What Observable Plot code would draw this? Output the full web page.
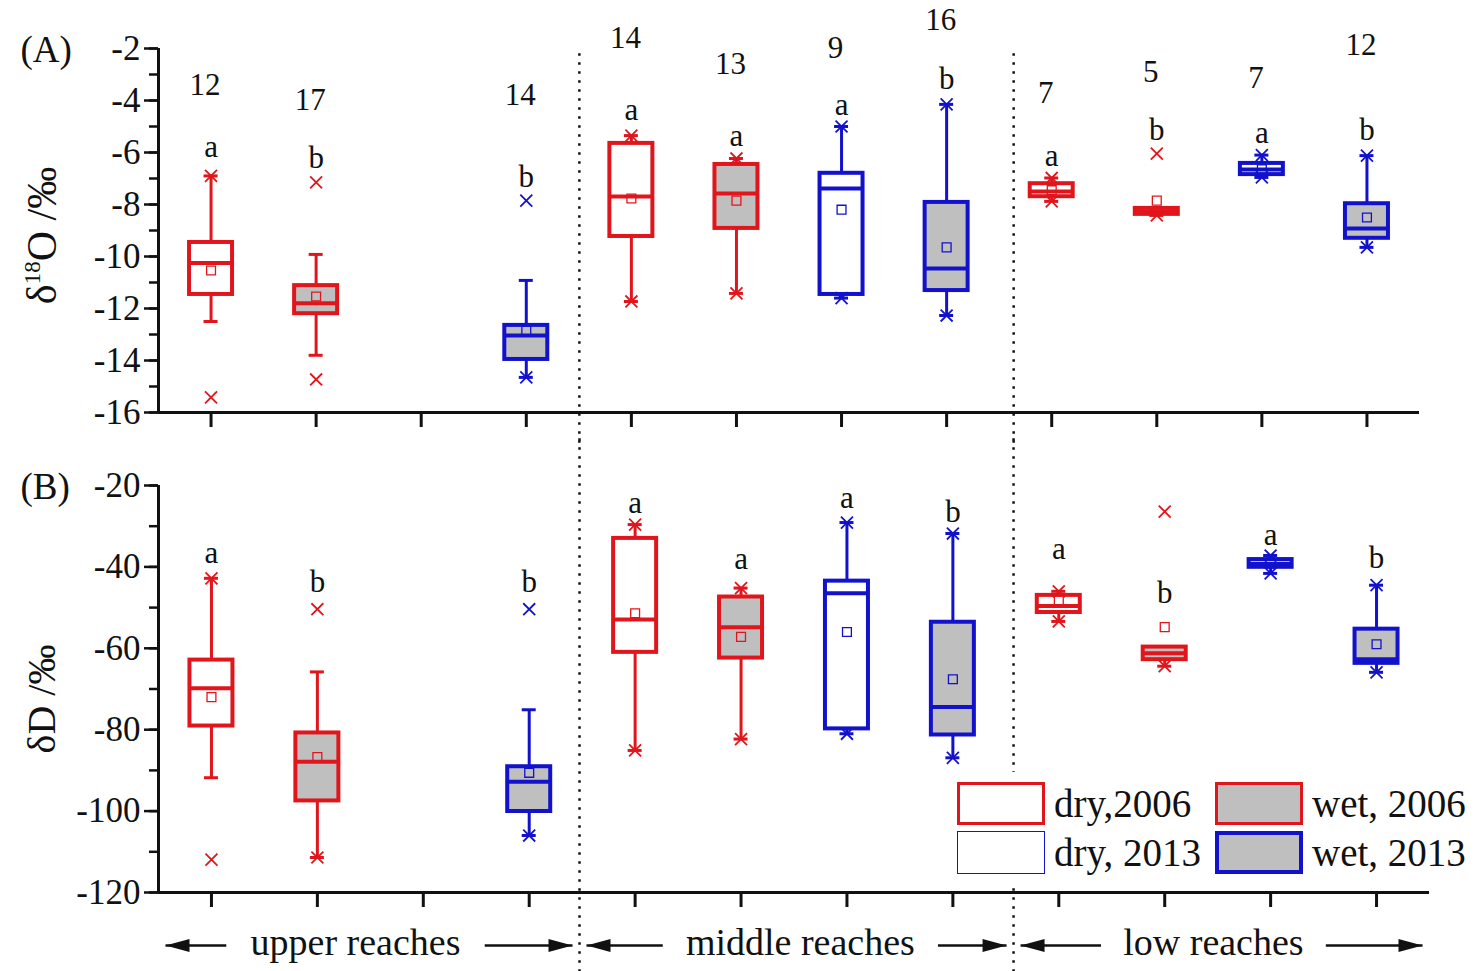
<!DOCTYPE html>
<html>
<head>
<meta charset="utf-8">
<script src="https://cdn.jsdelivr.net/npm/d3@7"></script>
<script src="https://cdn.jsdelivr.net/npm/@observablehq/plot@0.6"></script>
<style>
  body { margin: 0; background: #fff; }
  #wrap { position: relative; width: 1478px; height: 971px; overflow: hidden;
          font-family: 'Liberation Serif', 'Times New Roman', serif; }
  #wrap svg { position: absolute; left: 0; overflow: visible; }
  #legend { position: absolute; left: 950px; top: 772px; width: 528px; height: 116px; background: #fff; }
  .lbox { position: absolute; width: 88px; height: 43px; box-sizing: border-box; }
  .ltxt { position: absolute; font-size: 39px; line-height: 43px; color: #111; white-space: nowrap; }
</style>
</head>
<body>
<div id="wrap"></div>
<script>
// ---------- data ----------
const slots = [1, 2, 4, 5, 6, 7, 8, 9, 10, 11, 12];
const slotTicks = [1, 2, 3, 4, 5, 6, 7, 8, 9, 10, 11, 12];
const groups = ["dry,2006", "wet, 2006", "wet, 2013", "dry,2006", "wet, 2006", "dry, 2013", "wet, 2013",
                "dry,2006", "wet, 2006", "dry, 2013", "wet, 2013"];
const sampleCounts = [12, 17, 14, 14, 13, 9, 16, 7, 5, 7, 12];
const letters = ["a", "b", "b", "a", "a", "a", "b", "a", "b", "a", "b"];
const dividersA = [4.505, 8.638];
const dividersB = [4.475, 8.573];
const reachNames = ["upper reaches", "middle reaches", "low reaches"];
const reachCenter = [2.36, 6.56, 10.46];

// (A) δ18O
const o18WhiskerHigh = [-6.9, -9.92, -10.92, -5.35, -6.23, -5.0, -4.15, -6.98, -8.15, -6.1, -6.12];
const o18Q3          = [-9.46, -11.12, -12.65, -5.65, -6.46, -6.8, -7.92, -7.2, -8.15, -6.42, -7.97];
const o18Median      = [-10.25, -11.8, -13.04, -7.69, -7.58, -7.38, -10.46, -7.5, -8.27, -6.65, -8.92];
const o18Q1          = [-11.46, -12.2, -13.96, -9.23, -8.92, -11.46, -11.31, -7.7, -8.38, -6.85, -9.3];
const o18WhiskerLow  = [-12.5, -13.8, -14.65, -11.73, -11.42, -11.6, -12.27, -7.88, -8.42, -6.96, -9.65];
const o18Mean        = [-10.54, -11.54, -12.85, -7.77, -7.85, -8.2, -9.65, -7.45, -7.85, -6.65, -8.5];
const o18Max         = [-6.9, -7.15, -7.85, -5.35, -6.23, -5.0, -4.15, -6.98, -6.04, -6.1, -6.12];
const o18Min         = [-15.42, -14.73, -14.65, -11.73, -11.42, -11.6, -12.27, -7.88, -8.42, -6.96, -9.65];
const o18CountY      = [-3.42, -4.0, -3.81, -1.58, -2.58, -2.0, -0.92, -3.73, -2.92, -3.15, -1.88];
const o18LetterY     = [-5.81, -6.23, -6.96, -4.38, -5.38, -4.19, -3.19, -6.12, -5.15, -5.27, -5.15];
const o18Major = [-16, -14, -12, -10, -8, -6, -4, -2];
const o18Minor = [-16, -15, -14, -13, -12, -11, -10, -9, -8, -7, -6, -5, -4, -3, -2];

// (B) δD
const dWhiskerHigh = [-42.8, -65.8, -75.1, -29.6, -45.2, -29.1, -31.8, -46.0, -59.7, -37.2, -44.5];
const dQ3          = [-62.9, -80.8, -89.1, -33.0, -47.4, -43.5, -53.6, -47.0, -59.7, -38.2, -55.3];
const dMedian      = [-69.8, -87.9, -92.8, -52.9, -54.8, -46.5, -74.4, -49.6, -61.2, -39.2, -62.7];
const dQ1          = [-79.1, -97.5, -100.1, -61.0, -62.4, -79.8, -81.3, -51.2, -62.8, -40.1, -63.7];
const dWhiskerLow  = [-91.8, -111.4, -106.0, -85.1, -82.3, -81.0, -86.9, -53.4, -64.4, -41.6, -65.9];
const dMean        = [-72.0, -86.7, -90.6, -51.4, -57.2, -56.0, -67.6, -48.2, -54.8, -39.2, -59.0];
const dMax         = [-42.8, -50.4, -50.4, -29.6, -45.2, -29.1, -31.8, -46.0, -26.4, -37.2, -44.5];
const dMin         = [-111.9, -111.4, -106.0, -85.1, -82.3, -81.0, -86.9, -53.4, -64.4, -41.6, -65.9];
const dLetterY     = [-36.7, -43.8, -43.8, -24.4, -38.1, -23.2, -26.6, -35.7, -46.5, -32.3, -37.9];
const dMajor = [-120, -100, -80, -60, -40, -20];
const dMinor = [-120, -110, -100, -90, -80, -70, -60, -50, -40, -30, -20];

// ---------- styles ----------
const RED = "#e0161c", BLUE = "#1212cc", GRAY = "#bfbfbf";
const colorOf = g => g.endsWith("2006") ? RED : BLUE;
const fillOf = g => g.startsWith("wet") ? GRAY : "white";
const FONT = "'Liberation Serif', 'Times New Roman', serif";

const arrowHead = {
  draw(ctx) { ctx.moveTo(0, 0); ctx.lineTo(-24, -6.5); ctx.lineTo(-24, 6.5); ctx.closePath(); }
};

function buildRows(s) {
  return slots.map((slot, i) => ({
    slot, group: groups[i], whi: s.whi[i], q3: s.q3[i], med: s.med[i], q1: s.q1[i],
    wlo: s.wlo[i], mean: s.mean[i], max: s.max[i], min: s.min[i],
    letter: letters[i], letterY: s.letterY[i],
    count: s.countY ? sampleCounts[i] : null, countY: s.countY ? s.countY[i] : null
  }));
}

function panel(o) {
  const marginLeft = 158;
  const ppu = (1478 - marginLeft - o.marginRight) / 12;
  const hw = 21.5 / ppu, cw = 7 / ppu;
  const data = buildRows(o.stats);
  const ext = data.flatMap(d => [{slot: d.slot, v: d.max, group: d.group}, {slot: d.slot, v: d.min, group: d.group}]);
  const stroke = d => colorOf(d.group);
  const marks = [
    Plot.ruleX(o.dividers, {y1: o.divY[0], y2: o.divY[1], stroke: "#111", strokeWidth: 2.5, strokeDasharray: "2.5,6.5"}),
    Plot.ruleX([0.5], {stroke: "#111", strokeWidth: 3}),
    Plot.ruleY([o.yDomain[0]], {stroke: "#111", strokeWidth: 3}),
    Plot.axisY({ticks: o.minor, tickSize: 9, tickFormat: () => "", strokeWidth: 2.5, label: null}),
    Plot.axisY({ticks: o.major, tickSize: 14, tickPadding: 4, tickFormat: d => String(d), fontSize: 35,
                strokeWidth: 2.5, label: null, fill: "#111"}),
    Plot.axisX({ticks: slotTicks, tickSize: 15, tickFormat: () => "", strokeWidth: 3, label: null}),
    // whiskers
    Plot.ruleX(data, {x: "slot", y1: "q3", y2: "whi", stroke, strokeWidth: 3}),
    Plot.ruleX(data, {x: "slot", y1: "wlo", y2: "q1", stroke, strokeWidth: 3}),
    Plot.ruleY(data, {y: "whi", x1: d => d.slot - cw, x2: d => d.slot + cw, stroke, strokeWidth: 3}),
    Plot.ruleY(data, {y: "wlo", x1: d => d.slot - cw, x2: d => d.slot + cw, stroke, strokeWidth: 3}),
    // boxes
    Plot.rect(data, {x1: d => d.slot - hw, x2: d => d.slot + hw, y1: "q1", y2: "q3",
                     fill: d => fillOf(d.group), stroke, strokeWidth: 4}),
    Plot.ruleY(data, {y: "med", x1: d => d.slot - hw, x2: d => d.slot + hw, stroke, strokeWidth: 4}),
    Plot.dot(data, {x: "slot", y: "mean", symbol: "square", r: 5, stroke, strokeWidth: 1.3, fill: "none"}),
    Plot.dot(ext, {x: "slot", y: "v", symbol: "times", r: 5.5, stroke, strokeWidth: 1.8}),
    // letters
    Plot.text(data, {x: "slot", y: "letterY", text: "letter", fontSize: 31, fill: "#111"}),
    // y label and panel tag
    Plot.text([o.ylabel], {frameAnchor: "left", dx: -116, dy: o.ylabelDy, rotate: -90, fontSize: o.ylabelSize,
                           textAnchor: "middle", lineAnchor: "middle", fill: "#111"}),
    Plot.text([o.tag], {frameAnchor: "top-left", dx: -138, dy: 2, textAnchor: "start", lineAnchor: "middle",
                        fontSize: 37, fill: "#111"})
  ];
  if (o.stats.countY) {
    marks.push(Plot.text(data, {x: "slot", y: "countY", text: d => String(d.count), dx: -6, fontSize: 31, fill: "#111"}));
  }
  if (o.reaches) {
    const bounds = [[0.5, o.dividers[0]], [o.dividers[0], o.dividers[1]], [o.dividers[1], 12.5]];
    const arrows = reachNames.flatMap((name, i) => {
      const c = reachCenter[i], half = (name.length * 8.4 + 20) / ppu, pad = 7 / ppu;
      return [{x1: c - half, x2: bounds[i][0] + pad}, {x1: c + half, x2: bounds[i][1] - pad}];
    });
    const yb = o.yDomain[0];
    marks.push(
      Plot.text(reachNames, {x: (d, i) => reachCenter[i], frameAnchor: "bottom", lineAnchor: "middle",
                             dy: 50, fontSize: 38, fill: "#111"}),
      Plot.link(arrows, {x1: "x1", x2: "x2", y1: () => yb, y2: () => yb, dy: 53, stroke: "#111", strokeWidth: 2.5}),
      Plot.dot(arrows, {x: "x2", y: () => yb, dy: 53, symbol: arrowHead, rotate: d => d.x2 > d.x1 ? 0 : 180,
                        fill: "#111", stroke: "none"})
    );
  }
  const svg = Plot.plot({
    width: 1478, height: o.height,
    marginLeft, marginRight: o.marginRight, marginTop: o.marginTop, marginBottom: o.marginBottom,
    x: {domain: [0.5, 12.5]},
    y: {domain: o.yDomain},
    color: {type: "identity"},
    style: {fontFamily: FONT, fontSize: "30px", background: "transparent", color: "#111", overflow: "visible"},
    marks
  });
  svg.style.top = o.top + "px";
  return svg;
}

const wrap = document.getElementById("wrap");

const yLabelA = "δ18O /‰";
const svgA = panel({
  stats: {whi: o18WhiskerHigh, q3: o18Q3, med: o18Median, q1: o18Q1, wlo: o18WhiskerLow,
          mean: o18Mean, max: o18Max, min: o18Min, letterY: o18LetterY, countY: o18CountY},
  yDomain: [-16, -2], major: o18Major, minor: o18Minor, dividers: dividersA,
  height: 440, top: 0, marginTop: 48, marginBottom: 28, marginRight: 59,
  divY: [-2.2, -17.2], ylabel: yLabelA, ylabelSize: 42, ylabelDy: 5, tag: "(A)"
});
wrap.appendChild(svgA);

const svgB = panel({
  stats: {whi: dWhiskerHigh, q3: dQ3, med: dMedian, q1: dQ1, wlo: dWhiskerLow,
          mean: dMean, max: dMax, min: dMin, letterY: dLetterY},
  yDomain: [-120, -20], major: dMajor, minor: dMinor, dividers: dividersB,
  height: 531, top: 440, marginTop: 45, marginBottom: 79, marginRight: 49,
  divY: [-8.5, -140], ylabel: "δD /‰", ylabelSize: 40, ylabelDy: 10, tag: "(B)", reaches: true
});
wrap.appendChild(svgB);

// superscript in the δ18O label
d3.select(svgA).selectAll("text").filter(function() { return this.textContent === yLabelA; })
  .each(function() {
    const t = d3.select(this);
    t.text(null);
    t.append("tspan").text("δ");
    t.append("tspan").attr("dy", "-16").attr("font-size", "23").text("18");
    t.append("tspan").attr("dy", "16").text("O /‰");
  });

// legend
const legendItems = [
  {label: "dry,2006", color: RED, fill: "white", sw: 3.5, col: 0, row: 0},
  {label: "wet, 2006", color: RED, fill: GRAY, sw: 3.5, col: 1, row: 0},
  {label: "dry, 2013", color: BLUE, fill: "white", sw: 1.6, col: 0, row: 1},
  {label: "wet, 2013", color: BLUE, fill: GRAY, sw: 4, col: 1, row: 1}
];
const legend = document.createElement("div");
legend.id = "legend";
for (const it of legendItems) {
  const b = document.createElement("div");
  b.className = "lbox";
  b.style.left = (7 + it.col * 258) + "px";
  b.style.top = (10 + it.row * 49) + "px";
  b.style.border = `${it.sw}px solid ${it.color}`;
  b.style.background = it.fill;
  legend.appendChild(b);
  const t = document.createElement("div");
  t.className = "ltxt";
  t.style.left = (104 + it.col * 258) + "px";
  t.style.top = (10 + it.row * 49) + "px";
  t.textContent = it.label;
  legend.appendChild(t);
}
wrap.appendChild(legend);
</script>
</body>
</html>
